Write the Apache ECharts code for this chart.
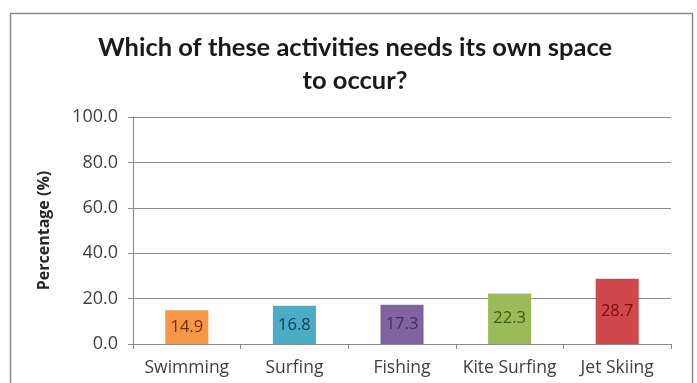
<!DOCTYPE html>
<html>
<head>
<meta charset="utf-8">
<style>
  html, body { margin: 0; padding: 0; background: #ffffff; }
  #chart { width: 697px; height: 383px; }
</style>
<script src="https://cdn.jsdelivr.net/npm/echarts@6/dist/echarts.min.js"></script>
</head>
<body>
<div id="chart"></div>
<script>
// Survey responses: share of respondents per activity
const categories = ['Swimming', 'Surfing', 'Fishing', 'Kite Surfing', 'Jet Skiing'];
const percentages = [14.9, 16.8, 17.3, 22.3, 28.7];
const barColors = ['#F79646', '#4BACC6', '#8064A2', '#9BBB59', '#D0484B'];
const labelColors = ['#6b3000', '#17375E', '#3F3151', '#3b5a12', '#7a0c0c'];

const chart = echarts.init(document.getElementById('chart'), null, { renderer: 'canvas' });

chart.setOption({
  backgroundColor: '#ffffff',
  animation: false,
  graphic: [
    {
      type: 'rect',
      shape: { x: 10.5, y: 13.5, width: 682, height: 400 },
      style: { fill: 'none', stroke: '#8c8c8c', lineWidth: 1.5 },
      silent: true
    }
  ],
  title: {
    text: 'Which of these activities needs its own space\nto occur?',
    left: 350,
    top: 26,
    textAlign: 'center',
    textStyle: {
      fontFamily: 'Lato',
      fontWeight: 'bold',
      fontSize: 25.5,
      lineHeight: 33,
      color: '#1a1a1a'
    }
  },
  grid: { left: 133, top: 117, right: 26, bottom: 39, containLabel: false },
  xAxis: {
    type: 'category',
    data: categories,
    axisLine: { lineStyle: { color: '#8a8a8a', width: 1 } },
    axisTick: { show: true, alignWithLabel: false, length: 5, lineStyle: { color: '#8a8a8a' } },
    axisLabel: {
      interval: 0,
      hideOverlap: false,
      color: '#404040',
      fontFamily: 'Open Sans',
      fontSize: 17.5,
      margin: 15
    }
  },
  yAxis: {
    type: 'value',
    min: 0,
    max: 100,
    interval: 20,
    name: 'Percentage (%)',
    nameLocation: 'middle',
    nameGap: 81,
    nameRotate: 90,
    nameTextStyle: { fontFamily: 'Open Sans', fontWeight: 'bold', fontSize: 16, color: '#262626' },
    axisLine: { show: true, lineStyle: { color: '#8a8a8a', width: 1 } },
    axisTick: { show: true, length: 5, lineStyle: { color: '#8a8a8a' } },
    axisLabel: {
      color: '#404040',
      fontFamily: 'Open Sans',
      fontSize: 18,
      margin: 15,
      formatter: v => v.toFixed(1)
    },
    splitLine: { lineStyle: { color: '#8a8a8a', width: 1 } }
  },
  series: [
    {
      type: 'bar',
      data: percentages.map((v, i) => ({
        value: v,
        itemStyle: { color: barColors[i] },
        label: { color: labelColors[i] }
      })),
      barCategoryGap: '60%',
      label: {
        show: true,
        position: 'inside',
        fontFamily: 'Open Sans',
        fontSize: 16.5,
        formatter: p => p.value.toFixed(1)
      }
    }
  ]
});
</script>
</body>
</html>
